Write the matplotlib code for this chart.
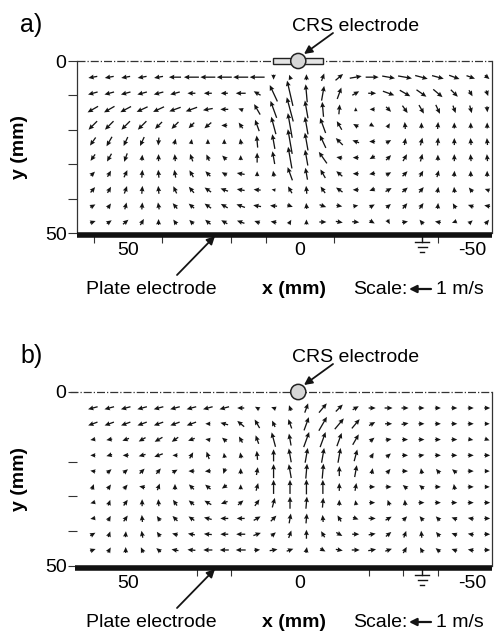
import numpy as np
import matplotlib
matplotlib.use("Agg")
import matplotlib.pyplot as plt
from matplotlib.patches import Circle, Rectangle

plt.rcParams['font.family'] = ['Liberation Sans', 'DejaVu Sans']

W, H = 498, 637

# measurement grid (mm): 25 columns, 10 rows
x_cols = np.linspace(60.2, -54.4, 25)
y_rows_a = np.linspace(4.7, 46.8, 10)
y_rows_b = np.linspace(4.6, 45.4, 10)

# arrow direction on the page (deg, 0 = right, 90 = up), read row by row (top to bottom)
ang_a = [
    [190, 190, 190, 190, 190, 180, 180, 180, 180, 180, 180, 270, 110, 90, 70, 40, 10, 0, 350, 350, 345, 345, 340, 340, 320],
    [195, 195, 195, 195, 195, 195, 180, 180, 180, 180, 150, 115, 103, 95, 80, 70, 30, 0, 340, 330, 325, 320, 315, 300, 290],
    [210, 210, 208, 205, 205, 200, 200, 190, 180, 160, 120, 110, 105, 100, 95, 85, 90, 180, 315, 305, 300, 295, 290, 285, 275],
    [225, 225, 225, 225, 225, 225, 225, 220, 180, 125, 110, 105, 100, 100, 110, 120, 150, 330, 60, 95, 90, 85, 90, 90, 90],
    [235, 240, 245, 245, 265, 75, 80, 90, 90, 100, 95, 100, 100, 100, 115, 135, 160, 180, 30, 80, 75, 85, 90, 95, 95],
    [235, 240, 250, 85, 90, 95, 110, 115, 135, 90, 90, 100, 100, 100, 125, 170, 180, 210, 45, 60, 75, 90, 90, 95, 95],
    [45, 60, 65, 85, 95, 100, 120, 135, 150, 170, 90, 100, 110, 100, 120, 140, 180, 190, 30, 45, 60, 75, 85, 90, 90],
    [50, 60, 70, 85, 95, 115, 130, 145, 160, 170, 175, 170, 120, 95, 125, 145, 180, 200, 30, 40, 50, 80, 95, 130, 160],
    [30, 55, 75, 85, 100, 130, 140, 145, 150, 160, 170, 175, 340, 95, 340, 350, 10, 30, 40, 50, 55, 85, 120, 160, 170],
    [20, 35, 40, 60, 90, 125, 135, 140, 150, 160, 160, 170, 60, 90, 0, 350, 355, 330, 300, 10, 130, 170, 200, 40, 50],
]
# speed (m/s)
spd_a = [
    [.41, .41, .41, .41, .41, .55, .68, .68, .68, .68, .68, .23, .23, .27, .36, .45, .55, .59, .59, .64, .59, .55, .50, .41, .27],
    [.45, .45, .45, .45, .45, .45, .36, .36, .32, .45, .36, .82, 1.18, .82, .68, .55, .36, .36, .55, .55, .55, .55, .45, .32, .27],
    [.55, .55, .55, .55, .55, .55, .55, .45, .36, .23, .55, .82, 1.14, .82, .68, .45, .18, .23, .32, .41, .45, .45, .36, .36, .27],
    [.55, .55, .55, .55, .45, .45, .36, .41, .27, .32, .55, .82, 1.14, .82, .73, .45, .27, .23, .23, .32, .27, .32, .27, .27, .27],
    [.45, .50, .45, .45, .36, .27, .23, .23, .23, .27, .55, .68, 1.14, .82, .64, .45, .32, .27, .27, .32, .36, .36, .32, .32, .32],
    [.36, .41, .41, .27, .32, .32, .36, .32, .27, .23, .45, .59, 1.00, .73, .64, .27, .27, .27, .32, .36, .36, .27, .32, .32, .32],
    [.27, .32, .36, .36, .36, .36, .36, .32, .27, .36, .23, .27, .64, .55, .45, .36, .27, .27, .27, .32, .32, .32, .27, .27, .27],
    [.32, .32, .36, .36, .36, .36, .36, .36, .36, .36, .32, .18, .36, .36, .36, .36, .27, .27, .32, .32, .32, .27, .27, .27, .23],
    [.27, .27, .32, .32, .32, .32, .32, .36, .36, .41, .36, .32, .27, .27, .32, .27, .23, .27, .27, .32, .32, .27, .27, .27, .27],
    [.27, .27, .32, .32, .27, .27, .27, .32, .32, .36, .27, .27, .23, .23, .32, .32, .32, .27, .23, .27, .27, .27, .23, .23, .27],
]

ang_b = [
    [195, 195, 195, 195, 195, 195, 195, 195, 195, 180, 150, 160, 110, 70, 50, 45, 30, 0, 0, 0, 0, 0, 0, 0, 0],
    [200, 200, 200, 200, 200, 200, 200, 180, 165, 140, 120, 115, 110, 70, 60, 50, 50, 30, 0, 10, 0, 0, 0, 0, 0],
    [190, 190, 200, 210, 210, 215, 200, 170, 140, 120, 110, 105, 100, 70, 70, 70, 60, 40, 10, 0, 0, 0, 0, 350, 340],
    [180, 195, 180, 195, 200, 180, 60, 110, 100, 100, 95, 90, 100, 80, 80, 80, 75, 60, 40, 0, 10, 0, 0, 0, 0],
    [170, 40, 40, 45, 50, 30, 180, 185, 250, 90, 80, 90, 100, 85, 85, 90, 80, 80, 50, 0, 100, 130, 140, 0, 0],
    [70, 55, 50, 170, 70, 90, 135, 140, 215, 90, 75, 90, 90, 90, 90, 90, 80, 0, 0, 140, 140, 0, 100, 0, 0],
    [195, 70, 55, 90, 95, 125, 140, 150, 200, 40, 55, 75, 90, 85, 85, 90, 100, 0, 110, 95, 0, 0, 0, 0, 0],
    [190, 60, 55, 95, 125, 135, 145, 165, 180, 180, 30, 45, 80, 85, 95, 120, 340, 0, 30, 45, 130, 135, 160, 170, 0],
    [30, 70, 85, 100, 125, 165, 170, 175, 180, 180, 20, 40, 70, 90, 120, 330, 0, 10, 40, 70, 95, 130, 160, 170, 0],
    [20, 60, 90, 115, 140, 170, 175, 180, 180, 180, 5, 10, 20, 80, 330, 350, 0, 10, 20, 60, 120, 140, 160, 170, 0],
]
spd_b = [
    [.45, .45, .45, .45, .45, .45, .45, .45, .45, .32, .23, .23, .27, .45, .55, .45, .32, .32, .36, .32, .27, .27, .27, .27, .27],
    [.45, .45, .45, .45, .45, .45, .45, .23, .36, .41, .45, .32, .45, .64, .73, .64, .55, .32, .32, .32, .27, .27, .27, .27, .23],
    [.23, .27, .32, .36, .41, .36, .32, .23, .27, .32, .41, .68, .55, .73, .73, .64, .55, .27, .27, .27, .27, .27, .27, .23, .23],
    [.23, .27, .27, .32, .41, .23, .32, .36, .23, .27, .41, .55, .64, .68, .68, .68, .55, .27, .27, .27, .27, .27, .27, .27, .27],
    [.23, .27, .27, .32, .32, .27, .27, .27, .27, .27, .36, .64, .64, .68, .68, .45, .55, .27, .27, .27, .27, .27, .27, .27, .23],
    [.27, .27, .27, .27, .32, .27, .32, .32, .27, .23, .36, .64, .64, .68, .64, .36, .36, .27, .27, .27, .27, .27, .27, .27, .23],
    [.23, .27, .32, .32, .32, .32, .32, .36, .32, .32, .36, .45, .55, .55, .45, .27, .23, .27, .27, .27, .27, .27, .27, .27, .27],
    [.23, .27, .32, .32, .27, .32, .32, .36, .36, .36, .36, .36, .45, .45, .32, .32, .27, .32, .32, .27, .27, .27, .27, .27, .27],
    [.27, .27, .27, .32, .27, .27, .32, .36, .36, .41, .36, .27, .36, .41, .32, .32, .32, .32, .32, .32, .32, .27, .27, .27, .27],
    [.27, .27, .27, .27, .27, .32, .36, .41, .41, .45, .27, .36, .32, .27, .27, .32, .36, .36, .32, .32, .27, .27, .27, .27, .27],
]

x_minor_a = [60, 40, 20, 10, 0, -10, -40]
x_minor_b = [50, 30, 20, 0, -20, -30, -40]
x_labels = [50, 0, -50]
ground_x = -35.5
XLIM = (64.8, -55.8)
INK = '#141414'
FS = 14


def fx(px):
    return px / W


def fy(py):
    return 1 - py / H


def draw_panel(fig, top, bottom, ang, spd, rows, letter, yticks, minor_x, holder):
    ax = fig.add_axes([fx(77), fy(bottom), fx(492) - fx(77), fy(top) - fy(bottom)])
    ax.set_xlim(*XLIM)
    ax.set_ylim(50, 0)

    X, Y = np.meshgrid(x_cols, rows)
    th = np.radians(np.array(ang, dtype=float))
    s = np.array(spd)
    ax.quiver(X, Y, s * np.cos(th), s * np.sin(th), angles='uv',
              scale_units='dots', scale=1 / 22, units='dots', width=1.3,
              headwidth=3.8, headlength=4.2, headaxislength=3.8,
              pivot='middle', color=INK)

    for side in ('top', 'bottom'):
        ax.spines[side].set_visible(False)
    ax.spines['right'].set_linewidth(0.9)
    ax.spines['right'].set_color('#333333')
    if holder:
        ax.spines['left'].set_linewidth(0.9)
        ax.spines['left'].set_color('#333333')
        line_left = XLIM[0]
        bar_left = XLIM[0]
    else:
        ax.spines['left'].set_visible(False)
        line_left = 66.9
        bar_left = 65.4

    # free surface (dash-dot) and plate electrode (thick bar)
    ax.plot([line_left, XLIM[1]], [0, 0], ls='-.', lw=0.9, color='#333333', clip_on=False)
    ax.plot([bar_left, XLIM[1]], [50.5, 50.5], lw=4, color='#111111',
            solid_capstyle='butt', clip_on=False, zorder=5)

    # CRS electrode
    if holder:
        ax.add_patch(Rectangle((-6.7, -0.9), 14.5, 1.8, facecolor='#e4e4e4',
                               edgecolor='#222222', lw=1, clip_on=False, zorder=6))
    ax.add_patch(Circle((0.5, 0), 2.2, facecolor='#d6d6d6', edgecolor='#222222',
                        lw=1.1, clip_on=False, zorder=7))

    # ground symbol
    ax.plot([ground_x, ground_x], [50.5, 52.6], color=INK, lw=1, clip_on=False)
    for yy, hw in [(52.6, 2.0), (54.0, 1.3), (55.4, 0.6)]:
        ax.plot([ground_x - hw, ground_x + hw], [yy, yy], color=INK, lw=1, clip_on=False)

    ax.set_xticks(x_labels)
    ax.set_xticklabels([str(v) for v in x_labels], fontsize=FS)
    ax.set_xticks(minor_x, minor=True)
    ax.tick_params(axis='x', which='major', length=0, pad=6.5)
    ax.tick_params(axis='x', which='minor', length=7, width=0.8, color='#333333')
    ax.set_yticks(yticks)
    ax.set_yticklabels(['0' if v == 0 else ('50' if v == 50 else '') for v in yticks], fontsize=FS)
    ax.tick_params(axis='y', length=6.5, width=0.8, pad=1, color='#333333')

    # texts
    base = bottom + 61
    fig.text(fx(20), fy(top - 29), letter, fontsize=18, ha='left', va='baseline')
    fig.text(fx(356), fy(top - 30), 'CRS electrode', fontsize=FS, ha='center', va='baseline')
    fig.text(fx(151), fy(base), 'Plate electrode', fontsize=FS, ha='center', va='baseline')
    fig.text(fx(262), fy(base), 'x (mm)', fontsize=FS, fontweight='bold', ha='left', va='baseline')
    fig.text(fx(353), fy(base), 'Scale:', fontsize=FS, ha='left', va='baseline')
    fig.text(fx(436), fy(base), '1 m/s', fontsize=FS, ha='left', va='baseline')
    fig.text(fx(20), fy((top + bottom) / 2), 'y (mm)', fontsize=FS, fontweight='bold',
             rotation=90, ha='center', va='center')

    # scale arrow: 1 m/s = 22 px, same as the quiver scale
    key = dict(arrowstyle='-|>', lw=1.6, color=INK, mutation_scale=11, shrinkA=0, shrinkB=0)
    ax.annotate('', xy=(fx(409), fy(base - 5)), xytext=(fx(431), fy(base - 5)),
                xycoords='figure fraction', textcoords='figure fraction', arrowprops=key)

    arrow = dict(arrowstyle='-|>', lw=1.3, color=INK, mutation_scale=12, shrinkA=0, shrinkB=0)
    ax.annotate('', xy=(fx(304), fy(top - 7)), xytext=(fx(333), fy(top - 28)),
                xycoords='figure fraction', textcoords='figure fraction', arrowprops=arrow)
    ax.annotate('', xy=(fx(215), fy(bottom + 3)), xytext=(fx(177), fy(bottom + 42)),
                xycoords='figure fraction', textcoords='figure fraction', arrowprops=arrow)
    return ax


fig = plt.figure(figsize=(W / 100, H / 100), dpi=100)
draw_panel(fig, 61, 233, ang_a, spd_a, y_rows_a, 'a)', [0, 10, 20, 30, 40, 50], x_minor_a, True)
draw_panel(fig, 392, 566, ang_b, spd_b, y_rows_b, 'b)', [0, 20, 30, 40, 50], x_minor_b, False)

fig.savefig('out.png', dpi=100)
